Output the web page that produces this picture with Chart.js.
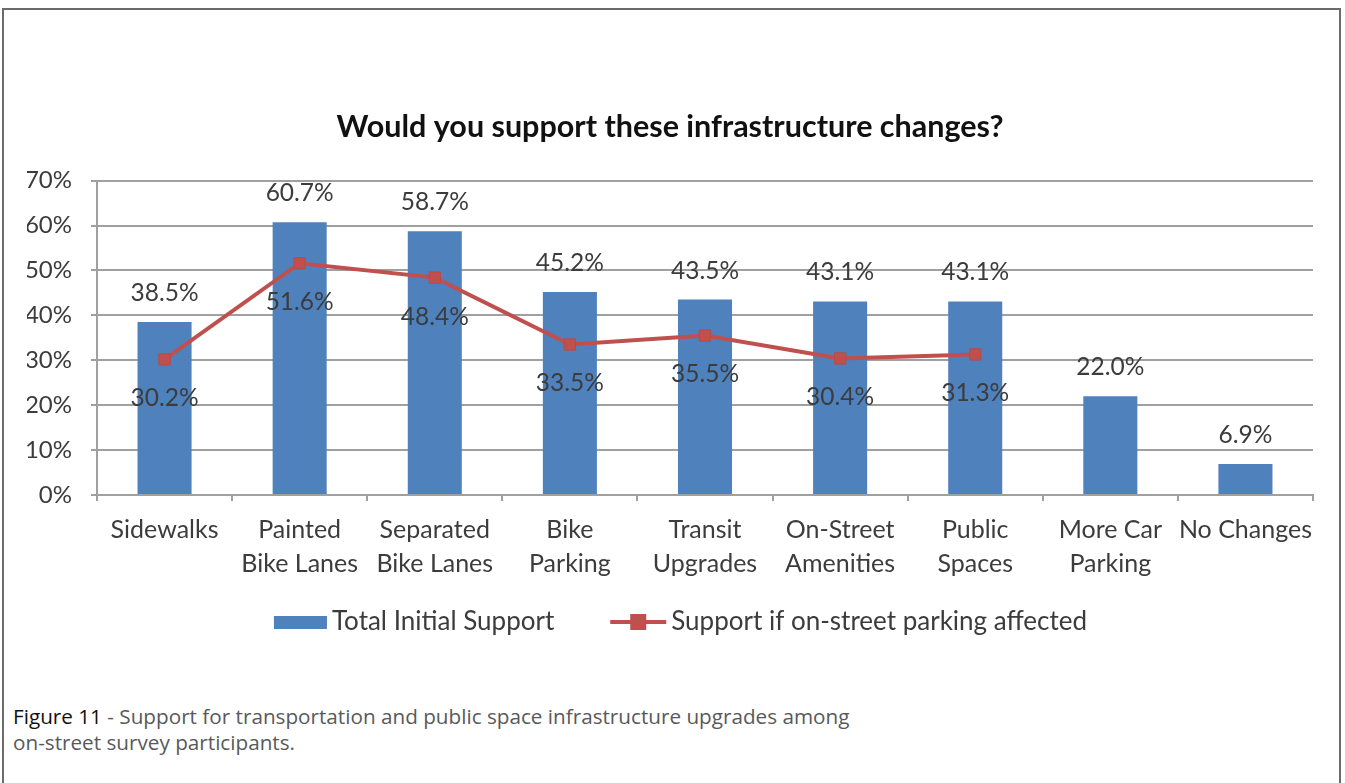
<!DOCTYPE html>
<html><head><meta charset="utf-8">
<script src="https://cdn.jsdelivr.net/npm/chart.js@4.4.1/dist/chart.umd.min.js"></script>
<style>
html,body{margin:0;padding:0;background:#fff;}
body{width:1345px;height:783px;position:relative;overflow:hidden;}
#frame{position:absolute;left:2px;top:8px;width:1339px;height:800px;border:2px solid #6b6b6b;border-bottom:none;box-sizing:border-box;}
#wrap{position:absolute;left:0;top:0;width:1345px;height:680px;}
#cap{position:absolute;left:13px;top:703px;font-family:"Open Sans",sans-serif;font-size:20.7px;color:#58595b;line-height:26px;}
#cap span{color:#111;}
</style></head>
<body>
<div id="frame"></div>
<div id="wrap"><canvas id="c"></canvas></div>
<div id="cap"><span>Figure 11</span> - Support for transportation and public space infrastructure upgrades among<br>on-street survey participants.</div>
<script>
const categories = [["Sidewalks"],["Painted","Bike Lanes"],["Separated","Bike Lanes"],["Bike","Parking"],["Transit","Upgrades"],["On-Street","Amenities"],["Public","Spaces"],["More Car","Parking"],["No Changes"]];
const totalSupport = [38.5, 60.7, 58.7, 45.2, 43.5, 43.1, 43.1, 22.0, 6.9];
const parkingAffected = [30.2, 51.6, 48.4, 33.5, 35.5, 30.4, 31.3, null, null];
const yTicks = [0, 10, 20, 30, 40, 50, 60, 70];
const seriesNames = ["Total Initial Support", "Support if on-street parking affected"];
const chartTitle = "Would you support these infrastructure changes?";

const FONT = "Lato";
const TXT = "#3c3c3c";
const BLUE = "#4F81BD";
const RED = "#C0504D";
const GRID = "#a0a0a0";

const valueLabels = {
  id: 'valueLabels',
  afterDatasetsDraw(chart) {
    const ctx = chart.ctx;
    ctx.save();
    ctx.font = "24.5px " + FONT;
    ctx.fillStyle = TXT;
    ctx.textAlign = 'center';
    ctx.textBaseline = 'middle';
    chart.getDatasetMeta(0).data.forEach((el, i) => {
      ctx.fillText(totalSupport[i].toFixed(1) + '%', el.x, el.y - 29);
    });
    chart.getDatasetMeta(1).data.forEach((el, i) => {
      if (parkingAffected[i] == null) return;
      ctx.fillText(parkingAffected[i].toFixed(1) + '%', el.x, el.y + 39);
    });
    ctx.restore();
  }
};

const customLegend = {
  id: 'customLegend',
  afterDraw(chart) {
    const ctx = chart.ctx;
    ctx.save();
    ctx.font = "26px " + FONT;
    ctx.textBaseline = 'middle';
    ctx.textAlign = 'left';
    const y = 622;
    const boxW = 53, lineW = 56, gap = 5, itemGap = 56;
    const w1 = ctx.measureText(seriesNames[0]).width;
    const w2 = ctx.measureText(seriesNames[1]).width;
    const total = boxW + gap + w1 + itemGap + lineW + gap + w2;
    let x = chart.width / 2 + 8 - total / 2;
    ctx.fillStyle = BLUE;
    ctx.fillRect(x, y - 6, boxW, 13);
    x += boxW + gap;
    ctx.fillStyle = TXT;
    ctx.fillText(seriesNames[0], x, y);
    x += w1 + itemGap;
    ctx.strokeStyle = RED;
    ctx.lineWidth = 4;
    ctx.beginPath(); ctx.moveTo(x, y); ctx.lineTo(x + lineW, y); ctx.stroke();
    ctx.fillStyle = RED;
    ctx.fillRect(x + lineW / 2 - 8, y - 8, 16, 16);
    x += lineW + gap;
    ctx.fillStyle = TXT;
    ctx.fillText(seriesNames[1], x, y);
    ctx.restore();
  }
};

new Chart(document.getElementById('c'), {
  data: {
    labels: categories,
    datasets: [
      { type: 'bar', label: seriesNames[0], data: totalSupport, backgroundColor: BLUE,
        barPercentage: 0.4, categoryPercentage: 1.0, order: 2 },
      { type: 'line', label: seriesNames[1], data: parkingAffected, borderColor: RED, borderWidth: 4,
        pointStyle: 'rect', pointRadius: 8, pointBackgroundColor: RED, pointBorderColor: '#b94a47',
        pointBorderWidth: 1, tension: 0, spanGaps: false, order: 1 }
    ]
  },
  options: {
    responsive: true, maintainAspectRatio: false, animation: false,
    layout: { padding: { left: 27, right: 32, top: 0, bottom: 95 } },
    plugins: {
      legend: { display: false },
      tooltip: { enabled: false },
      title: { display: true, text: chartTitle, color: '#111',
        font: { family: FONT, size: 30.5, weight: 'bold', lineHeight: 1.2 },
        padding: { top: 109, bottom: 35 } }
    },
    scales: {
      x: {
        offset: true,
        grid: { display: true, drawOnChartArea: false, drawTicks: true, tickLength: 6, offset: true, color: GRID, lineWidth: 2 },
        border: { display: true, color: GRID, width: 2 },
        ticks: { color: TXT, font: { family: FONT, size: 25, lineHeight: 1.36 }, padding: 12, maxRotation: 0, autoSkip: false },
        afterFit(s) { s.height = 90; }
      },
      y: {
        min: 0, max: 70,
        afterBuildTicks(s) { s.ticks = yTicks.map(v => ({ value: v })); },
        grid: { color: GRID, lineWidth: 2, tickLength: 6, drawTicks: true },
        border: { display: true, color: GRID, width: 2 },
        ticks: { color: TXT, font: { family: FONT, size: 24 }, padding: 19, callback: v => v + '%' },
        afterFit(s) { s.width = 70; }
      }
    }
  },
  plugins: [valueLabels, customLegend]
});
</script>
</body></html>
